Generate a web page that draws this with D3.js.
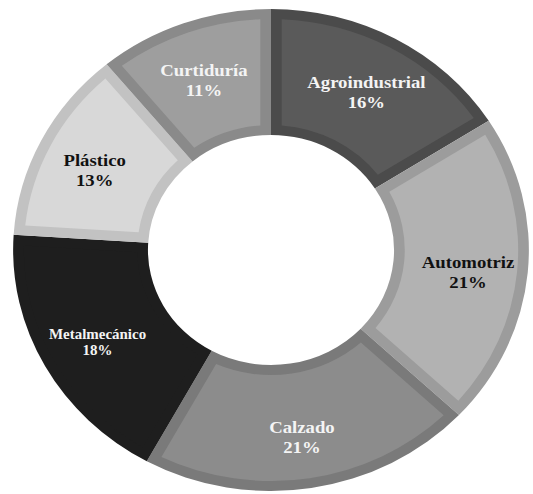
<!DOCTYPE html>
<html>
<head>
<meta charset="utf-8">
<script src="https://cdn.jsdelivr.net/npm/d3@7"></script>
<style>
  html, body { margin: 0; padding: 0; background: #ffffff; }
  svg { display: block; }
</style>
</head>
<body>
<svg id="chart" width="533" height="494"></svg>
<script>
// Sector shares (percent), clockwise from 12 o'clock
const sectors = ["Agroindustrial", "Automotriz", "Calzado", "Metalmecánico", "Plástico", "Curtiduría"];
const shares  = [16, 21, 21, 18, 13, 11];

// Grey palette: slice rim and slice face
const rimColors  = ["#4b4b4b", "#9c9c9c", "#7a7a7a", "#1e1e1e", "#c2c2c2", "#8a8a8a"];
const faceColors = ["#5a5a5a", "#b2b2b2", "#8c8c8c", "#1e1e1e", "#d8d8d8", "#9e9e9e"];
const textColors = ["#f4f4f4", "#111111", "#f4f4f4", "#f4f4f4", "#111111", "#f4f4f4"];
const fontSizes  = [17.5, 17.5, 17.5, 14, 17.5, 17.5];

const W = 533, H = 494;
const cx = 271, cy = 250;
const outerR = 241, innerR = 115;
const stretchX = 1.07;   // ring is slightly wider than tall
const rim = 10;          // bevel width

const svg = d3.select("#chart");
const g = svg.append("g")
  .attr("transform", `translate(${cx},${cy}) scale(${stretchX},1)`);

const pie = d3.pie().sort(null).value(d => d.value);
const data = pie(sectors.map((name, i) => ({ name, value: shares[i], i })));

const outerArc = d3.arc().innerRadius(innerR).outerRadius(outerR);
const faceArc = d3.arc()
  .innerRadius(innerR + rim)
  .outerRadius(outerR - rim)
  .padRadius(100)
  .padAngle(2 * rim / 100);

const slices = g.selectAll("g.slice").data(data).join("g").attr("class", "slice");

slices.append("path")
  .attr("d", outerArc)
  .attr("fill", d => rimColors[d.data.i]);

slices.append("path")
  .attr("d", faceArc)
  .attr("fill", d => faceColors[d.data.i]);

// Labels near slice centroids
const labelArc = d3.arc().innerRadius(185).outerRadius(185);
const labels = g.selectAll("text.lbl").data(data).join("text")
  .attr("class", "lbl")
  .attr("transform", d => {
    const [x, y] = labelArc.centroid(d);
    return `translate(${x},${y})`;
  })
  .attr("text-anchor", "middle")
  .attr("font-family", "'Liberation Serif', 'Times New Roman', serif")
  .attr("font-weight", "bold")
  .attr("font-size", d => fontSizes[d.data.i])
  .attr("fill", d => textColors[d.data.i]);

labels.append("tspan")
  .attr("x", 0)
  .attr("dy", "0.02em")
  .text(d => d.data.name);

labels.append("tspan")
  .attr("x", 0)
  .attr("dy", "1.15em")
  .text(d => d.data.value + "%");
</script>
</body>
</html>
